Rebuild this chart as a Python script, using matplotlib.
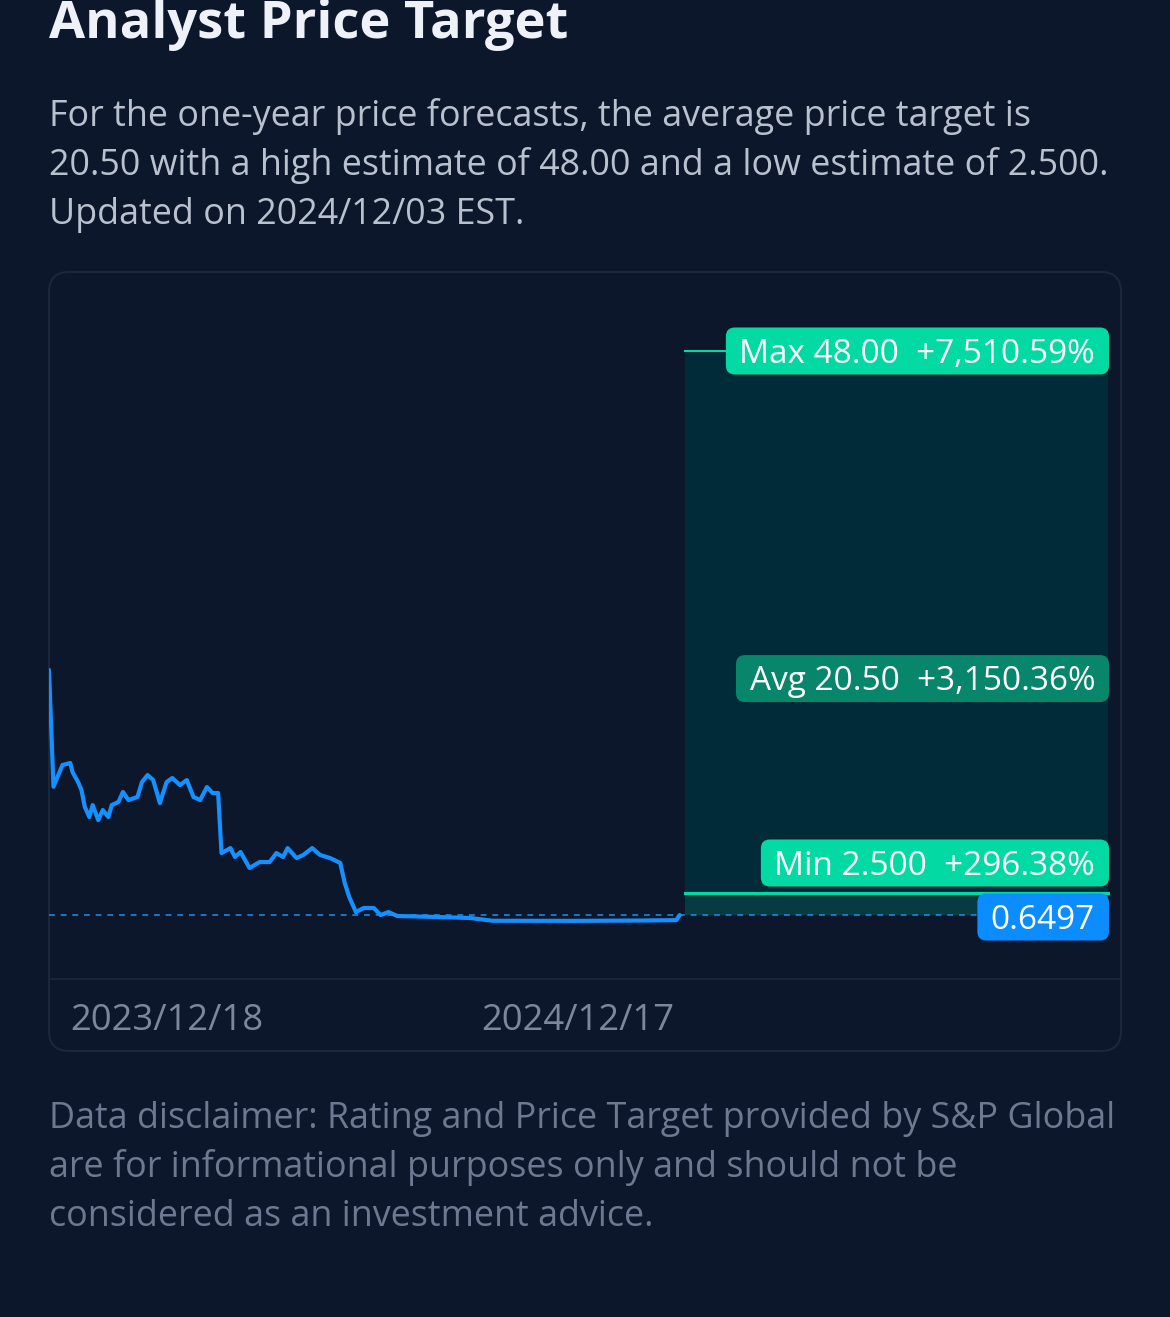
import matplotlib
matplotlib.use('Agg')
import matplotlib.pyplot as plt
from matplotlib.patches import FancyBboxPatch
from matplotlib.transforms import IdentityTransform
import numpy as np

plt.rcParams['font.family'] = ['Open Sans', 'DejaVu Sans']

# ---------------- data ----------------
days = [0, 4, 12, 19, 21, 26, 29, 32, 36, 39, 44, 48, 53, 56, 62, 66, 71, 79, 83, 88,
        93, 99, 105, 110, 117, 123, 129, 135, 141, 146, 151, 154, 162, 166, 171, 179,
        188, 197, 203, 209, 213, 221, 227, 235, 242, 251, 260, 264, 268, 274, 281, 290,
        296, 303, 311, 349, 376, 396, 470, 530, 560, 563]
prices = [21.22, 11.42, 13.24, 13.41, 12.65, 11.81, 11.14, 9.72, 8.88, 9.88, 8.62, 9.46,
          8.88, 9.88, 10.14, 10.98, 10.30, 10.56, 11.81, 12.40, 11.98, 10.05, 11.81, 12.15,
          11.56, 11.98, 10.56, 10.30, 11.40, 10.89, 10.89, 5.85, 6.27, 5.52, 5.94, 4.60,
          5.10, 5.10, 5.85, 5.52, 6.27, 5.43, 5.69, 6.27, 5.69, 5.43, 5.02, 3.34, 2.17,
          0.90, 1.24, 1.24, 0.65, 0.90, 0.57, 0.48, 0.40, 0.17, 0.16, 0.19, 0.22, 0.65]
current_price = 0.6497
target_max = 48.00
target_avg = 20.50
target_min = 2.500
target_labels = ['Max 48.00  +7,510.59%', 'Avg 20.50  +3,150.36%', 'Min 2.500  +296.38%']
price_label = '0.6497'
tick_days = [105, 472]
tick_labels = ['2023/12/18', '2024/12/17']

title = 'Analyst Price Target'
summary_lines = ['For the one-year price forecasts, the average price target is',
                 '20.50 with a high estimate of 48.00 and a low estimate of 2.500.',
                 'Updated on 2024/12/03 EST.']
disclaimer_lines = ['Data disclaimer: Rating and Price Target provided by S&P Global',
                    'are for informational purposes only and should not be',
                    'considered as an investment advice.']

# ---------------- style ----------------
W, H = 1170, 1317
BG = '#0c172b'
BORDER = '#1c273b'
GREEN = '#03d9a3'
DKGREEN = '#07866c'
BLUE = '#0b8cff'
LINE = '#1591ff'

fig = plt.figure(figsize=(W / 100, H / 100), dpi=100, facecolor=BG)
bg = fig.add_axes([0, 0, 1, 1])
bg.set_xlim(0, W)
bg.set_ylim(H, 0)
bg.axis('off')
bg.set_facecolor(BG)

# texts
bg.text(49, 38, title, fontsize=37.7, fontweight='bold', color='#eef1f7', va='baseline')
for i, s in enumerate(summary_lines):
    bg.text(49, 126 + 49 * i, s, fontsize=25.8, color='#b9c0ce', va='baseline')
for i, s in enumerate(disclaimer_lines):
    bg.text(49, 1128 + 49 * i, s, fontsize=25.8, color='#6e7890', va='baseline')

# card
card = FancyBboxPatch((49, 272), 1072, 779, boxstyle='round,pad=0,rounding_size=20',
                      fc='none', ec=BORDER, lw=1.5)
bg.add_patch(card)
bg.plot([49, 1121], [979, 979], color=BORDER, lw=1.2)

# chart axes
ax = fig.add_axes([49 / W, 1 - 979 / H, 1072 / W, 707 / H])
ax.set_facecolor('none')
for sp in ax.spines.values():
    sp.set_visible(False)
ax.set_xlim(0, 957)
ax.set_ylim(-4.72, 54.63)
ax.set_yticks([])
ax.set_xticks(tick_days, tick_labels)
ax.tick_params(axis='x', length=0, pad=17.5, labelsize=26.2, labelcolor='#7d879b')

fx0 = days[-1] + 5
fx1 = 945
ax.fill_between([fx0, fx1], target_min, target_max, color='#022b39', lw=0, zorder=1)
ax.fill_between([fx0, fx1], current_price, target_min, color='#053b41', lw=0, zorder=1)
ax.plot([fx0, fx1], [target_max] * 2, color=GREEN, lw=1.5, zorder=2)
ax.plot([fx0, fx1], [target_min] * 2, color=GREEN, lw=2.2, zorder=2)
ax.plot([0, fx1], [current_price] * 2, color='#1c86df', lw=1.2, ls=(0, (3.5, 3.5)), zorder=2)
ax.plot(days, prices, color=LINE, lw=3.0, solid_joinstyle='round', solid_capstyle='round', zorder=3)

# labels (boxes)
fig.canvas.draw()
renderer = fig.canvas.get_renderer()
x_right = 1095
fs = 24
cap = 0.714 * fs * 100 / 72
specs = [(target_max, target_labels[0], GREEN, 0),
         (target_avg, target_labels[1], DKGREEN, 0),
         (target_min, target_labels[2], GREEN, 30),
         (current_price, price_label, BLUE, -2)]
for val, lab, col, off in specs:
    yc = ax.transData.transform((0, val))[1] + off
    t = ax.text(x_right, yc - cap / 2, lab, fontsize=fs, color='white', ha='right',
                va='baseline', transform=IdentityTransform(), zorder=6)
    bb = t.get_window_extent(renderer)
    x0 = bb.x0 - 13.5
    x1 = bb.x1 + 14
    box = FancyBboxPatch((x0, yc - 23.5), x1 - x0, 47,
                         boxstyle='round,pad=0,rounding_size=9', fc=col, ec='none',
                         transform=IdentityTransform(), zorder=5)
    ax.add_patch(box)

fig.savefig('out.png', dpi=100, facecolor=BG)
